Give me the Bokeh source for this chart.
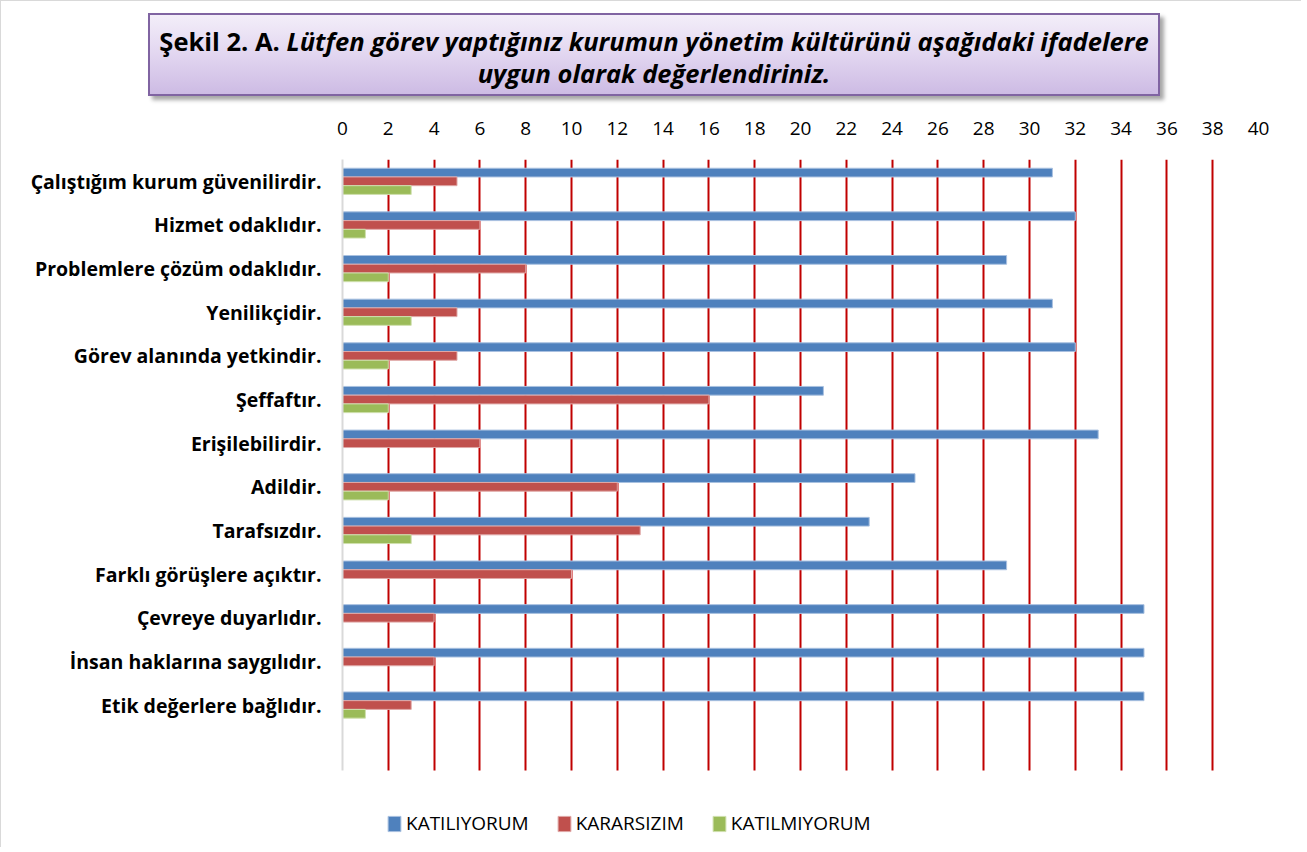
from bokeh.plotting import figure
from bokeh.models import (Range1d, FixedTicker, Legend, LegendItem, Div)
from bokeh.layouts import column
from bokeh.embed import file_html
from bokeh.resources import INLINE

categories = [
    "Çalıştığım kurum güvenilirdir.",
    "Hizmet odaklıdır.",
    "Problemlere çözüm odaklıdır.",
    "Yenilikçidir.",
    "Görev alanında yetkindir.",
    "Şeffaftır.",
    "Erişilebilirdir.",
    "Adildir.",
    "Tarafsızdır.",
    "Farklı görüşlere açıktır.",
    "Çevreye duyarlıdır.",
    "İnsan haklarına saygılıdır.",
    "Etik değerlere bağlıdır.",
]
katiliyorum = [31, 32, 29, 31, 32, 21, 33, 25, 23, 29, 35, 35, 35]
kararsizim = [5, 6, 8, 5, 5, 16, 6, 12, 13, 10, 4, 4, 3]
katilmiyorum = [3, 1, 2, 3, 2, 2, 0, 2, 3, 0, 0, 0, 1]
series_names = ["KATILIYORUM", "KARARSIZIM", "KATILMIYORUM"]
x_ticks = list(range(0, 41, 2))

FONT = "Open Sans"
pos = list(range(1, len(categories) + 1))

title_html = (
    '<div style="margin-left:142px; margin-top:7px; width:1012px; height:83px; '
    'box-sizing:border-box; border:2px solid #8064A2; '
    'background:linear-gradient(to bottom, #F3EEF9 0%, #E2D6F0 50%, #CDBBE4 100%); '
    'box-shadow:4px 4px 4px rgba(0,0,0,0.35); text-align:center; '
    'font-family:\'Open Sans\'; font-size:25.5px; line-height:32px; color:#000; '
    'padding-top:10px; font-weight:bold; white-space:nowrap;">'
    'Şekil 2. A. <i>Lütfen görev yaptığınız kurumun yönetim kültürünü aşağıdaki ifadelere</i><br>'
    '<i>uygun olarak değerlendiriniz.</i></div>'
)
title_div = Div(text=title_html, width=1290, height=100)

FIG_H = 736
TOP = 48
DATA_PX = 611            # pixel height of the 14 category slots
n_slots = len(categories) + 1
frame_px = FIG_H - TOP
y_bottom = 0.5 + n_slots * frame_px / DATA_PX

p = figure(width=1290, height=FIG_H, output_backend="svg", toolbar_location=None,
           x_range=Range1d(0, 40), y_range=Range1d(y_bottom, 0.5),
           x_axis_location="above", min_border_left=341, min_border_right=33,
           min_border_top=TOP, min_border_bottom=0)
p.outline_line_color = None
p.background_fill_color = "white"

colors = ["#4F81BD", "#C0504D", "#9BBB59"]
edges = ["#A9C1E0", "#E0A8A7", "#CFE0AE"]
offsets = [-0.2, 0.0, 0.2]
renderers = []
for vals, c, e, off in zip([katiliyorum, kararsizim, katilmiyorum], colors, edges, offsets):
    r = p.hbar(y=[v + off for v in pos], right=vals, left=0, height=0.2,
               fill_color=c, line_color=e, line_width=1)
    renderers.append(r)

p.xaxis.ticker = FixedTicker(ticks=x_ticks)
p.xaxis.axis_line_color = None
p.xaxis.major_tick_line_color = None
p.xaxis.minor_tick_line_color = None
p.xaxis.major_label_standoff = 19
p.xaxis.major_label_text_font = FONT
p.xaxis.major_label_text_font_size = "19px"
p.xaxis.major_label_text_color = "#000000"

p.yaxis.ticker = FixedTicker(ticks=pos)
p.yaxis.bounds = (0.5, 0.5 + n_slots)
p.yaxis.major_label_overrides = {k: v for k, v in zip(pos, categories)}
p.yaxis.axis_line_color = "#D9D9D9"
p.yaxis.axis_line_width = 2
p.yaxis.major_tick_line_color = None
p.yaxis.minor_tick_line_color = None
p.yaxis.major_label_standoff = 15
p.yaxis.major_label_text_font = FONT
p.yaxis.major_label_text_font_size = "19.5px"
p.yaxis.major_label_text_font_style = "bold"
p.yaxis.major_label_text_color = "#000000"

p.ygrid.grid_line_color = None
p.xgrid.ticker = FixedTicker(ticks=x_ticks[1:])
p.xgrid.cross_bounds = (0.5, 0.5 + n_slots)
p.xgrid.grid_line_color = "#C00000"
p.xgrid.grid_line_width = 2

legend = Legend(items=[LegendItem(label=n, renderers=[r]) for n, r in zip(series_names, renderers)],
                orientation="horizontal", location=(44, 11),
                border_line_color=None, background_fill_alpha=0,
                glyph_width=16, glyph_height=19, label_standoff=4, spacing=27,
                padding=0, margin=0,
                label_text_font=FONT, label_text_font_size="19px",
                label_text_color="#000000")
p.add_layout(legend, "center")

layout = column(title_div, p, spacing=0,
                styles={"border-left": "1px solid #D9D9D9", "border-top": "1px solid #D9D9D9"})

open("out.html", "w").write(file_html(layout, INLINE))
